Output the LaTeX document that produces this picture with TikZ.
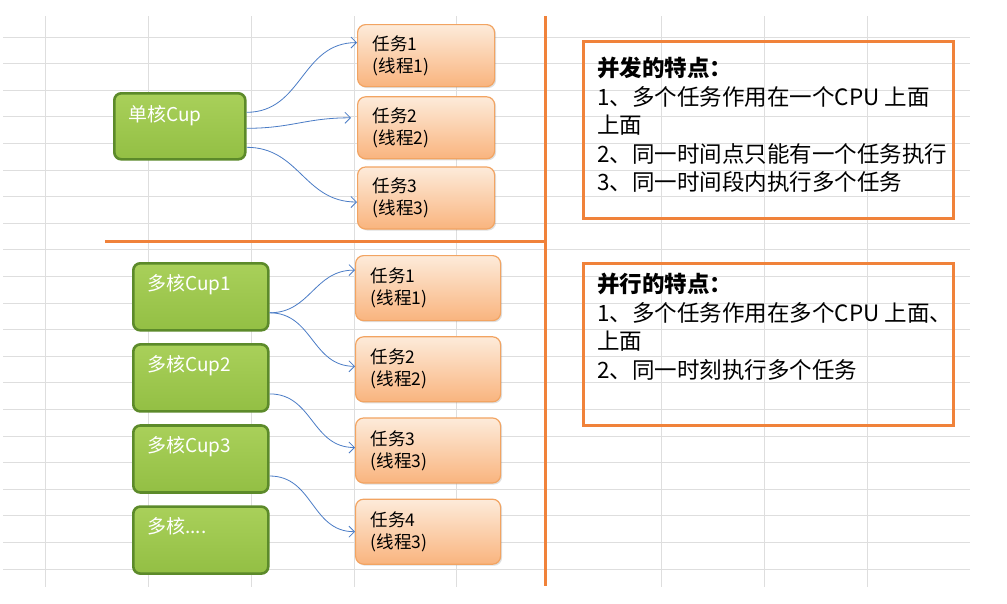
\documentclass[tikz,border=0pt]{standalone}
\usepackage{fontspec}
\setmainfont{Noto Sans CJK SC}
\usetikzlibrary{positioning,arrows.meta,shadows}

\definecolor{gridgray}{HTML}{DEDEDE}
\definecolor{sepor}{HTML}{F0823A}
\definecolor{cupfill}{HTML}{93BF44}
\definecolor{cupfilltop}{HTML}{A9D05A}
\definecolor{cupedge}{HTML}{5C8A2A}
\definecolor{taskedge}{HTML}{F2A462}
\definecolor{tasktop}{HTML}{FDEBDA}
\definecolor{taskbot}{HTML}{F9B47E}
\definecolor{arrblue}{HTML}{4A7CC6}

\tikzset{
  cupbox/.style={draw=cupedge, line width=2.6pt, rounded corners=7pt, top color=cupfilltop, bottom color=cupfill,
    minimum width=135pt, minimum height=67pt, anchor=north west, inner sep=0pt},
  cuplabel/.style={text=white, font=\fontsize{19}{22}\selectfont, anchor=north west, inner sep=0pt},
  taskbox/.style={draw=taskedge, line width=1.2pt, rounded corners=8pt, top color=tasktop, bottom color=taskbot,
    drop shadow={shadow xshift=1.5pt, shadow yshift=-1.5pt, opacity=.25}, minimum height=62pt,
    text width=#1, align=left, font=\fontsize{17.5}{22}\selectfont, anchor=north west, inner xsep=15pt, inner ysep=0pt},
  taskbox/.default=107pt,
  featbox/.style={draw=sepor, line width=3pt, minimum width=370pt, anchor=north west, inner sep=0pt},
  feattext/.style={anchor=north west, align=left, font=\fontsize{22.5}{28.5}\selectfont, inner sep=0pt},
  taskarrow/.style={arrblue, line width=0.8pt, -{Straight Barb[length=5.5pt,width=11pt]}, out=0, in=180, looseness=1.1}
}

\begin{document}
\begin{tikzpicture}[x=1pt, y=-1pt]
  \fill[white] (0,0) rectangle (1007,603);
  \useasboundingbox (0,0) rectangle (1007,603);
  % sheet grid
  \foreach \r in {0,...,20} { \draw[gridgray, line width=0.8pt] (3,{37+26.6*\r}) -- (970,{37+26.6*\r}); }
  \foreach \x in {45,148,251,354,456,661,764,867} { \draw[gridgray, line width=0.8pt] (\x,16) -- (\x,587); }
  \draw[sepor, line width=3pt] (545,16) -- (545,586);
  \draw[sepor, line width=3pt] (105,241) -- (545,241);

  % single core
  \node[cupbox, minimum width=131pt, minimum height=66pt] (single) at (113,92) {};
  \node[cuplabel] (singletxt) at ([shift={(15,13)}]single.north west) {单核Cup};
  \node[taskbox] (task1) at (357,24) {任务1\\(线程1)};
  \node[taskbox, below=9pt of task1] (task2) {任务2\\(线程2)};
  \node[taskbox, below=7pt of task2] (task3) {任务3\\(线程3)};
  \draw[taskarrow] ([yshift=14pt]single.east) to ([yshift=13pt]task1.west);
  \draw[taskarrow] ([yshift=-2pt]single.east) to ([xshift=-6pt,yshift=10pt]task2.west);
  \draw[taskarrow] ([yshift=-21pt]single.east) to ([yshift=-4pt]task3.west);

  % multi core
  \node[cupbox] (multi1) at (132,262) {};
  \node[cupbox, below=11.5pt of multi1] (multi2) {};
  \node[cupbox, below=11.5pt of multi2] (multi3) {};
  \node[cupbox, below=11.5pt of multi3] (multi4) {};
  \node[cuplabel] (multi1txt) at ([shift={(15,12)}]multi1.north west) {多核Cup1};
  \node[cuplabel] (multi2txt) at ([shift={(15,12)}]multi2.north west) {多核Cup2};
  \node[cuplabel] (multi3txt) at ([shift={(15,12)}]multi3.north west) {多核Cup3};
  \node[cuplabel] (multi4txt) at ([shift={(15,12)}]multi4.north west) {多核....};
  \node[taskbox=115pt, minimum height=65pt] (ptask1) at (355,255) {任务1\\(线程1)};
  \node[taskbox=115pt, minimum height=65pt, below=15pt of ptask1] (ptask2) {任务2\\(线程2)};
  \node[taskbox=115pt, minimum height=65pt, below=15pt of ptask2] (ptask3) {任务3\\(线程3)};
  \node[taskbox=115pt, minimum height=65pt, below=15pt of ptask3] (ptask4) {任务4\\(线程3)};
  \draw[taskarrow] ([yshift=-16pt]multi1.east) to ([yshift=18pt]ptask1.west);
  \draw[taskarrow] ([yshift=-16pt]multi1.east) to ([yshift=3pt]ptask2.west);
  \draw[taskarrow] ([yshift=-16pt]multi2.east) to ([yshift=3pt]ptask3.west);
  \draw[taskarrow] ([yshift=-17pt]multi3.east) to (ptask4.west);

  % notes
  \node[featbox, minimum height=177pt] (concur) at (582,40) {};
  \node[feattext] (concurtxt) at ([shift={(15,17)}]concur.north west)
    {\textbf{并发的特点：}\\1、多个任务作用在一个CPU 上面\\上面\\2、同一时间点只能有一个任务执行\\3、同一时间段内执行多个任务};
  \node[featbox, minimum height=162pt] (para) at (582,262) {};
  \node[feattext] (paratxt) at ([shift={(15,11)}]para.north west)
    {\textbf{并行的特点：}\\1、多个任务作用在多个CPU 上面、\\上面\\2、同一时刻执行多个任务};
\end{tikzpicture}
\end{document}
